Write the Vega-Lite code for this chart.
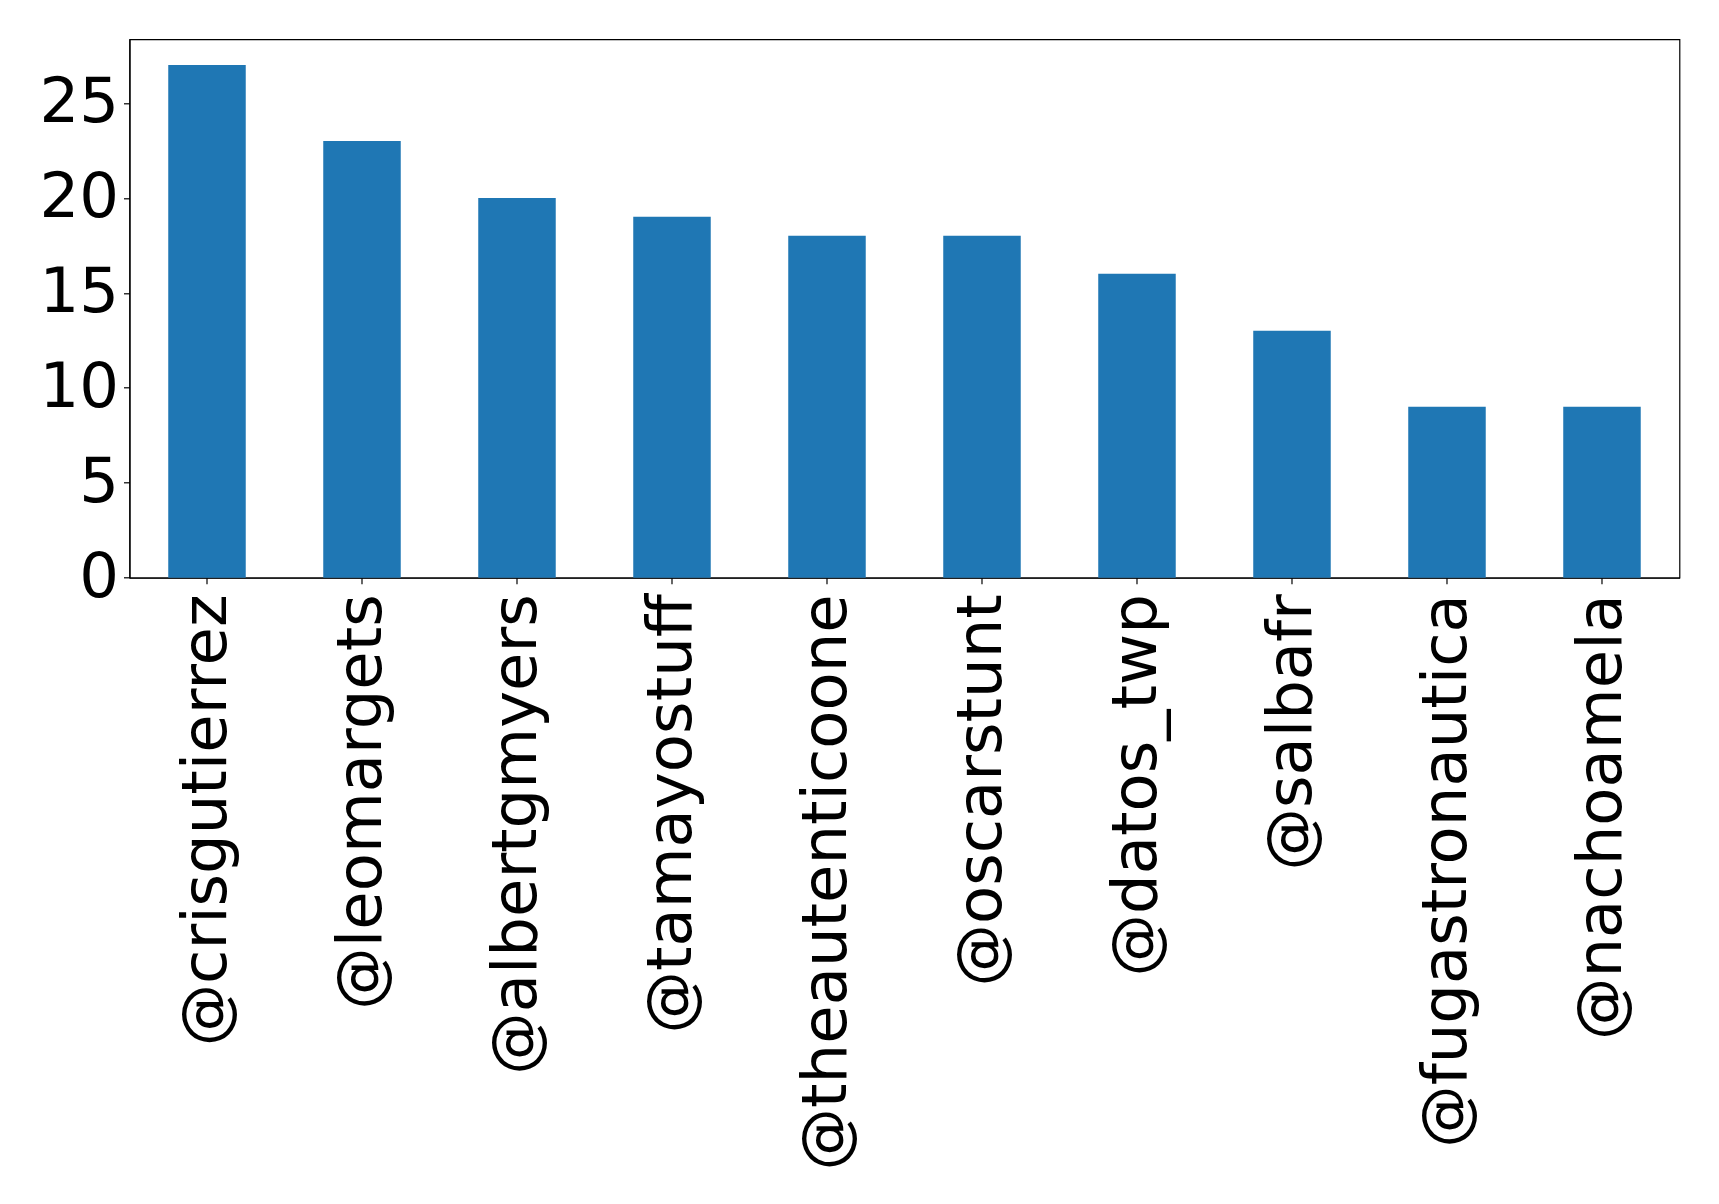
{
  "$schema": "https://vega.github.io/schema/vega-lite/v6.json",
  "autosize": "none",
  "padding": {"left": 129.5, "top": 39.3, "right": 39.7, "bottom": 626.3},
  "width": 1550,
  "height": 538.4,
  "background": "white",
  "config": {
    "view": {"stroke": "black", "strokeWidth": 1.2},
    "axis": {
      "labelFont": "DejaVu Sans",
      "labelFontSize": 62.5,
      "labelColor": "black",
      "labelLimit": 1000,
      "tickColor": "black",
      "tickSize": 6,
      "tickWidth": 1.2,
      "domainColor": "black",
      "domainWidth": 1.2,
      "grid": false,
      "title": null
    }
  },
  "data": {
    "values": [
      {"user": "@crisgutierrez", "count": 27},
      {"user": "@leomargets", "count": 23},
      {"user": "@albertgmyers", "count": 20},
      {"user": "@tamayostuff", "count": 19},
      {"user": "@theautenticoone", "count": 18},
      {"user": "@oscarstunt", "count": 18},
      {"user": "@datos_twp", "count": 16},
      {"user": "@salbafr", "count": 13},
      {"user": "@fugastronautica", "count": 9},
      {"user": "@nachoamela", "count": 9}
    ]
  },
  "mark": {"type": "bar", "color": "#1f77b4"},
  "encoding": {
    "x": {
      "field": "user",
      "type": "nominal",
      "sort": null,
      "scale": {"paddingInner": 0.5, "paddingOuter": 0.25},
      "axis": {"labelAngle": -90, "labelPadding": 10}
    },
    "y": {
      "field": "count",
      "type": "quantitative",
      "scale": {"domain": [0, 28.35], "nice": false, "zero": true},
      "axis": {"values": [0, 5, 10, 15, 20, 25], "labelPadding": 5}
    }
  }
}
